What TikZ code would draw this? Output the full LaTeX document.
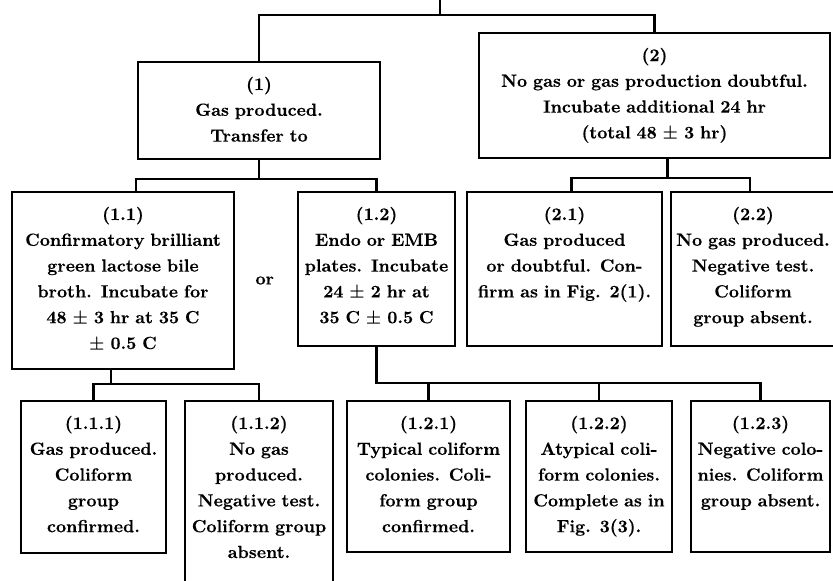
\documentclass[tikz,border=0pt]{standalone}
\usepackage{fontspec}
\setmainfont{lmroman10}[Extension=.otf, UprightFont=*-regular,
  BoldFont=*-bold, ItalicFont=*-italic, BoldItalicFont=*-bolditalic,
  BoldFeatures={FakeBold=0.25}]
\usetikzlibrary{positioning}

\begin{document}
\begin{tikzpicture}[x=1pt, y=1pt,
  stage/.style 2 args={draw, line width=2.2pt, align=center, inner sep=0pt,
    outer sep=0pt, text width=#1, text height=28pt, text depth=#2,
    font=\fontsize{17.6}{25.8}\selectfont\bfseries\boldmath},
  tree/.style={line width=2.2pt}]

  \useasboundingbox (0,0) rectangle (833,-581);
  \clip (0,0) rectangle (833,-581);

  \node[stage={222pt}{149pt}, anchor=north west] (P11) at (12,-192)
    {(1.1)\\Confirmatory brilliant\\green lactose bile\\broth.  Incubate for\\48 $\pm$ 3 hr at 35 C\\$\pm$ 0.5 C};
  \node[stage={157pt}{126pt}, right = 64pt of P11.north east, anchor=north west] (P12)
    {(1.2)\\Endo or EMB\\plates. Incubate\\24 $\pm$ 2 hr at\\35 C $\pm$ 0.5 C};
  \node[stage={195pt}{126pt}, right = 12pt of P12.north east, anchor=north west] (P21)
    {(2.1)\\Gas produced\\or doubtful. Con-\\firm as in Fig. 2(1).};
  \node[stage={164pt}{126pt}, right = 9pt of P21.north east, anchor=north west] (P22)
    {(2.2)\\No gas produced.\\Negative test.\\Coliform\\group absent.};
  \node[font=\fontsize{17.6}{25.8}\selectfont\bfseries, right = 18pt of P11] (or) {or};

  \node[stage={242pt}{69pt}, above right = 33pt and 126pt of P11.north west] (P1)
    {(1)\\Gas produced.\\Transfer to};
  \node[stage={351pt}{97pt}, above right = 34pt and 24pt of P12.north east] (P2)
    {(2)\\No gas or gas production doubtful.\\Incubate additional 24 hr\\(total 48 $\pm$ 3 hr)};

  \node[stage={145pt}{124pt}, below right = 32pt and 9pt of P11.south west] (P111)
    {(1.1.1)\\Gas produced.\\Coliform\\group\\confirmed.};
  \node[stage={148pt}{172pt}, right = 19pt of P111.north east, anchor=north west] (P112)
    {(1.1.2)\\No gas\\produced.\\Negative test.\\Coliform group\\absent.};
  \node[stage={163pt}{123pt}, right = 14pt of P112.north east, anchor=north west] (P121)
    {(1.2.1)\\Typical coliform\\colonies. Coli-\\form group\\confirmed.};
  \node[stage={146pt}{123pt}, right = 16pt of P121.north east, anchor=north west] (P122)
    {(1.2.2)\\Atypical coli-\\form colonies.\\Complete as in\\Fig. 3(3).};
  \node[stage={139pt}{123pt}, right = 19pt of P122.north east, anchor=north west] (P123)
    {(1.2.3)\\Negative colo-\\nies. Coliform\\group absent.};

  \coordinate (root) at (440,0);

  \draw[tree] (root) -- ++(0,-15);
  \draw[tree] (P1.north) -- ++(0,47) -| (P2.north);
  \draw[tree] (P1.south) -- ++(0,-20) -| ([xshift=13pt]P11.north);
  \draw[tree] (P1.south) -- ++(0,-20) -| (P12.north);
  \draw[tree] ([xshift=13pt]P2.south) -- ++(0,-20) -| ([xshift=7pt]P21.north);
  \draw[tree] ([xshift=13pt]P2.south) -- ++(0,-20) -| ([xshift=-3pt]P22.north);
  \draw[tree] ([xshift=-12pt]P11.south) -- ++(0,-15) -| (P111.north);
  \draw[tree] ([xshift=-12pt]P11.south) -- ++(0,-15) -| (P112.north);
  \draw[tree] (P12.south) -- ++(0,-37) -| (P121.north);
  \draw[tree] (P12.south) -- ++(0,-37) -| (P122.north);
  \draw[tree] (P12.south) -- ++(0,-37) -| (P123.north);

\end{tikzpicture}
\end{document}
